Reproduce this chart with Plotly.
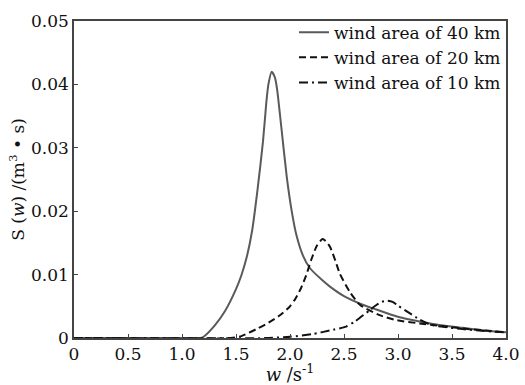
import plotly.graph_objects as go

# ---- data ----
w40 = [0, 1.0, 1.17, 1.2, 1.3, 1.4, 1.5, 1.55, 1.6, 1.65, 1.7, 1.75, 1.78, 1.80, 1.83, 1.86,
       1.88, 1.92, 1.97, 2.015, 2.06, 2.12, 2.185, 2.3, 2.37, 2.5, 2.68, 2.8, 2.99, 3.2, 3.4,
       3.6, 3.8, 4.0]
s40 = [0, 0, 0, 0.0002, 0.0019, 0.0043, 0.0077, 0.0099, 0.0128, 0.0170, 0.0235, 0.0310, 0.0370,
       0.0400, 0.0420, 0.0411, 0.0393, 0.0332, 0.0254, 0.0201, 0.0162, 0.0130, 0.0110, 0.0091,
       0.0081, 0.0066, 0.0052, 0.0045, 0.0034, 0.0026, 0.0020, 0.0016, 0.0012, 0.0009]

w20 = [0, 1.45, 1.55, 1.7, 1.8, 1.9, 2.0, 2.05, 2.1, 2.15, 2.2, 2.25, 2.3, 2.33, 2.37, 2.42, 2.46,
       2.56, 2.65, 2.83, 2.99, 3.2, 3.4, 3.6, 3.8, 4.0]
s20 = [0, 0, 0.0003, 0.0015, 0.0024, 0.0035, 0.0050, 0.0062, 0.0078, 0.0099, 0.0125, 0.0146,
       0.0156, 0.0153, 0.0144, 0.0122, 0.0102, 0.0071, 0.0052, 0.0036, 0.0028, 0.0023, 0.0019,
       0.0015, 0.0012, 0.0009]

w10 = [0, 1.8, 2.0, 2.2, 2.4, 2.52, 2.6, 2.74, 2.8, 2.85, 2.9, 2.95, 3.0, 3.1, 3.2, 3.3, 3.4,
       3.6, 3.8, 4.0]
s10 = [0, 0, 0.0002, 0.0006, 0.0013, 0.0018, 0.0026, 0.0044, 0.0052, 0.0057, 0.0059, 0.0057,
       0.0051, 0.0040, 0.0029, 0.0021, 0.0018, 0.0014, 0.0011, 0.0009]

names = ["wind area of 40 km", "wind area of 20 km", "wind area of 10 km"]

xtickvals = [0, 0.5, 1.0, 1.5, 2.0, 2.5, 3.0, 3.5, 4.0]
xticktext = ["0", "0.5", "1.0", "1.5", "2.0", "2.5", "3.0", "3.5", "4.0"]
ytickvals = [0, 0.01, 0.02, 0.03, 0.04, 0.05]
yticktext = ["0", "0.01", "0.02", "0.03", "0.04", "0.05"]

FONT = "DejaVu Serif"

fig = go.Figure()
fig.add_trace(go.Scatter(x=w40, y=s40, mode="lines", name=names[0],
                         line=dict(color="#5a5a5a", width=2, shape="spline", smoothing=0.6)))
fig.add_trace(go.Scatter(x=w20, y=s20, mode="lines", name=names[1],
                         line=dict(color="#111111", width=2, dash="7px,4px", shape="spline", smoothing=0.6)))
fig.add_trace(go.Scatter(x=w10, y=s10, mode="lines", name=names[2],
                         line=dict(color="#111111", width=2, dash="9px,4px,2px,4px", shape="spline", smoothing=0.6)))

axis_common = dict(showgrid=False, zeroline=False, showline=True, mirror=True, automargin=False,
                   linecolor="#444444", linewidth=1.5, ticks="inside", ticklen=4,
                   tickcolor="#444444", tickfont=dict(family=FONT, size=17, color="#111"))

fig.update_layout(
    width=525, height=385,
    margin=dict(l=74, r=19, t=21, b=47),
    paper_bgcolor="white", plot_bgcolor="white",
    font=dict(family=FONT, size=16, color="#111"),
    showlegend=True,
    legend=dict(x=1.0, y=1.02, xanchor="right", yanchor="top", bgcolor="rgba(0,0,0,0)",
                font=dict(family=FONT, size=17, color="#111"), tracegroupgap=0,
                borderwidth=0),
    xaxis=dict(range=[0, 4.0], tickvals=xtickvals, ticktext=xticktext,
               title=dict(text="<i>w</i> /s<sup>-1</sup>", standoff=0,
                          font=dict(family=FONT, size=18)),
               **axis_common),
    yaxis=dict(range=[0, 0.05], tickvals=ytickvals, ticktext=yticktext,
               title=dict(text="S (<i>w</i>) /(m<sup>3</sup> • s)", standoff=2,
                          font=dict(family=FONT, size=17)),
               **axis_common),
)

fig.write_html("out.html")
